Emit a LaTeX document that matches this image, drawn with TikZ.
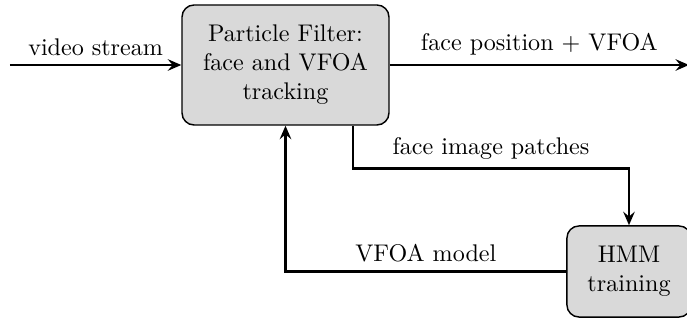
\documentclass[tikz,border=0pt]{standalone}
\usetikzlibrary{arrows.meta}
\begin{document}
\begin{tikzpicture}[x=0.415pt,y=-0.415pt,
  block/.style={draw, line width=0.6pt, fill=gray!30, rounded corners=5pt,
                align=center, inner sep=2pt},
  flow/.style={line width=1.1pt, -{Stealth[length=5.6pt,width=4.8pt,inset=2pt]}},
]
\useasboundingbox (0,0) rectangle (687,320);

% processing blocks
\node[block, minimum width=85.9pt, minimum height=49.8pt] (pf) at (285.5,65)
  {Particle Filter:\\face and VFOA\\tracking};
\node[block, minimum width=51.5pt, minimum height=37.8pt] (hmm) at (629,271.5)
  {HMM\\training};

% free ends of the input and output streams
\coordinate (in) at (10,65);
\coordinate (out) at (689,65);

% connectors
\draw[flow] (in) -- node[above] {video stream} (pf.west);
\draw[flow] (pf.east) -- node[above] {face position $+$ VFOA} (out);
\draw[flow] ([xshift=28pt]pf.south) -- ++(0,43)
  -| node[pos=0.25, above] {face image patches} (hmm.north);
\draw[flow] (hmm.west) -| node[pos=0.25, above] {VFOA model} (pf.south);
\end{tikzpicture}
\end{document}
